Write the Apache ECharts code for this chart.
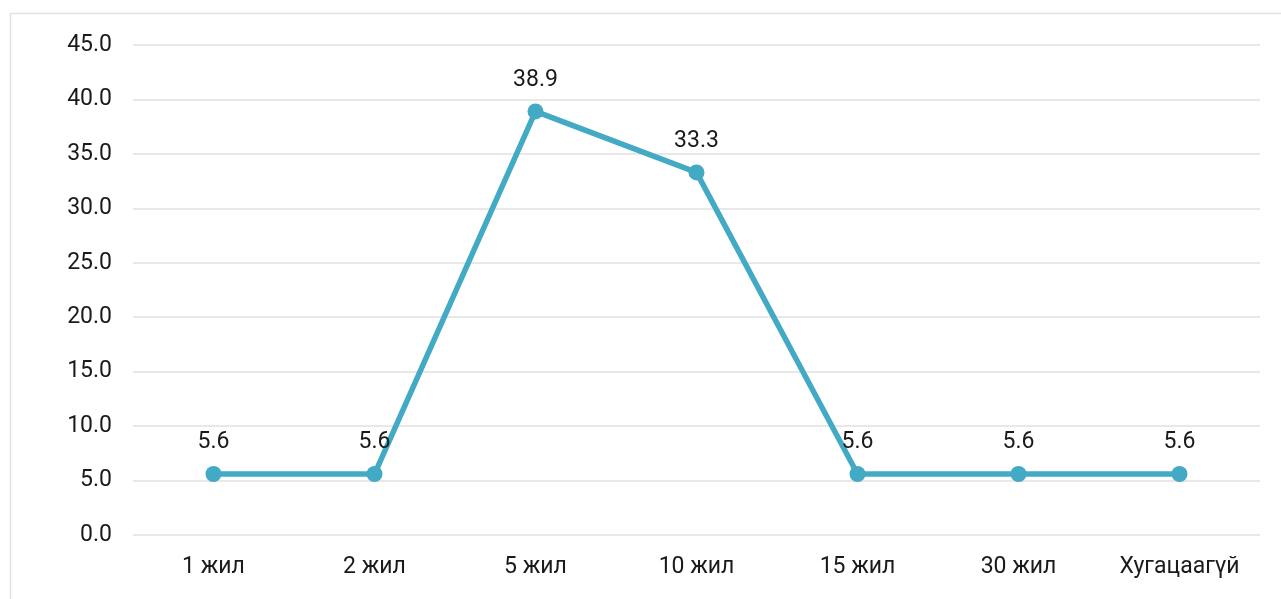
<!DOCTYPE html>
<html>
<head>
    <meta charset="utf-8">
    <title>Хугацаа</title>
    <script src="https://cdn.jsdelivr.net/npm/echarts@6/dist/echarts.min.js"></script>
    <style>
        html, body { margin: 0; padding: 0; background: #fff; }
        #chart { width: 1281px; height: 599px; }
    </style>
</head>
<body>
<div id="chart"></div>
<script type="text/javascript">
    // ангилал ба утгууд
    var categories = ['1 жил', '2 жил', '5 жил', '10 жил', '15 жил', '30 жил', 'Хугацаагүй'];
    var values = [5.6, 5.6, 38.9, 33.3, 5.6, 5.6, 5.6];
    var yTicks = [0, 5, 10, 15, 20, 25, 30, 35, 40, 45];

    var myChart = echarts.init(document.getElementById('chart'));
    myChart.setOption({
        textStyle: { fontFamily: 'Roboto' },
        graphic: [
            {
                // хүрээний шугам
                type: 'polyline',
                silent: true,
                shape: { points: [[10.5, 599], [10.5, 13.5], [1281, 13.5]] },
                style: { stroke: '#e2e2e2', lineWidth: 1.5, fill: null }
            }
        ],
        grid: { left: 133, right: 21, top: 45, bottom: 64 },
        xAxis: {
            type: 'category',
            data: categories,
            axisLine: { show: false },
            axisTick: { show: false },
            axisLabel: { color: '#1a1a1a', fontSize: 23, margin: 21 }
        },
        yAxis: {
            type: 'value',
            min: yTicks[0],
            max: yTicks[yTicks.length - 1],
            interval: 5,
            axisLine: { show: false },
            axisTick: { show: false },
            axisLabel: {
                color: '#1a1a1a',
                fontSize: 23,
                margin: 21,
                formatter: function (v) { return v.toFixed(1); }
            },
            splitLine: { lineStyle: { color: '#e0e0e0', width: 1.5 } }
        },
        series: [
            {
                type: 'line',
                data: values,
                symbol: 'circle',
                symbolSize: 16,
                lineStyle: { color: '#42aac5', width: 5.5 },
                itemStyle: { color: '#42aac5' },
                label: {
                    show: true,
                    position: 'top',
                    distance: 12,
                    color: '#1a1a1a',
                    fontSize: 23,
                    formatter: function (p) { return p.value.toFixed(1); }
                },
                animation: false
            }
        ]
    });
</script>
</body>
</html>
